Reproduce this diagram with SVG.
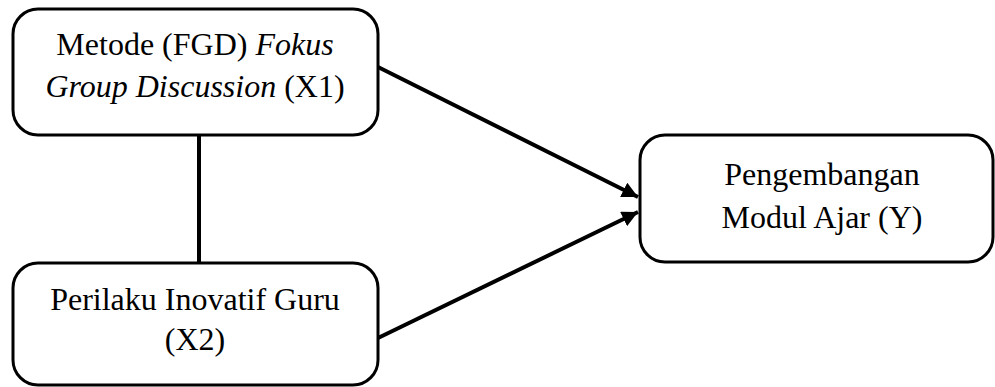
<svg xmlns="http://www.w3.org/2000/svg" width="995" height="387" viewBox="0 0 995 387">
<style>
.box{fill:#fff;stroke:#000;stroke-width:3}
.c{stroke:#000;stroke-width:4;fill:none}
</style>
<defs>
<marker id="ah" viewBox="0 0 10 10" refX="10" refY="5" markerWidth="4" markerHeight="4" orient="auto" markerUnits="strokeWidth">
<path d="M0,0 L10,5 L0,10 z" fill="#000"/>
</marker>
</defs>
<g id="connectors">
<line class="c" x1="199" y1="135" x2="199" y2="263"/>
<line class="c" x1="378" y1="67" x2="638" y2="197" marker-end="url(#ah)"/>
<line class="c" x1="378" y1="338" x2="638" y2="212" marker-end="url(#ah)"/>
</g>
<g font-family="Liberation Serif" font-size="32" text-anchor="middle" fill="#000">
<g id="x1">
<rect class="box" x="13" y="9" width="365" height="126" rx="25"/>
<text x="195" y="55">Metode (FGD) <tspan font-style="italic">Fokus</tspan></text>
<text x="195" y="97"><tspan font-style="italic">Group Discussion</tspan> (X1)</text>
</g>
<g id="x2">
<rect class="box" x="13" y="263" width="365" height="122" rx="25"/>
<text x="195" y="310">Perilaku Inovatif Guru</text>
<text x="195" y="350">(X2)</text>
</g>
<g id="y">
<rect class="box" x="640" y="135" width="353" height="127" rx="25"/>
<text x="822" y="185">Pengembangan</text>
<text x="822" y="228">Modul Ajar (Y)</text>
</g>
</g>
</svg>
